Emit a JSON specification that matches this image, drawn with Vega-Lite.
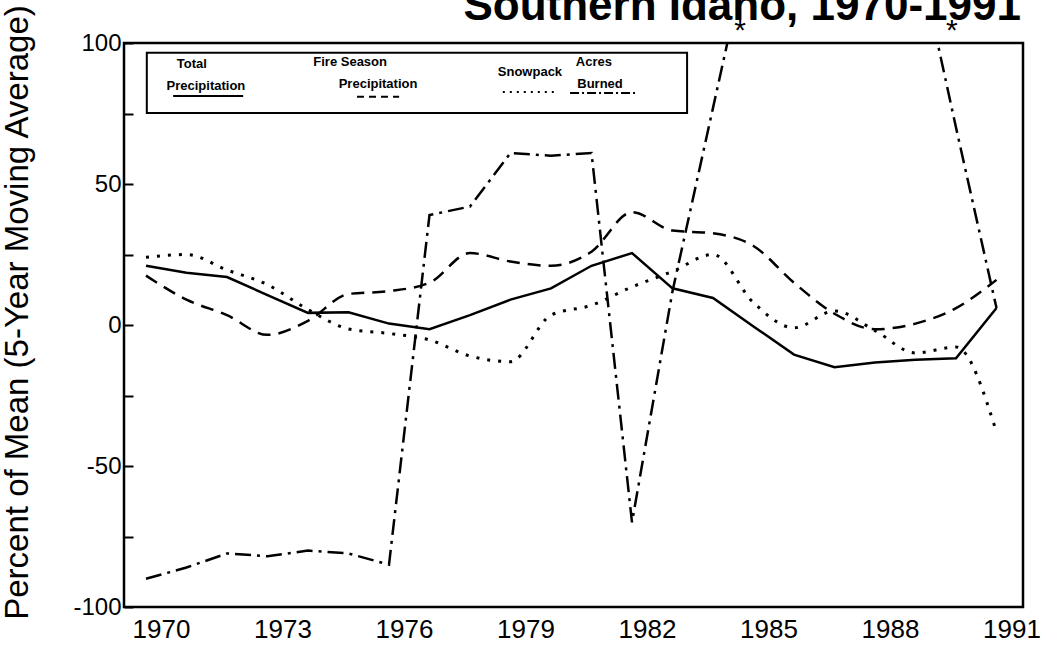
{
  "$schema": "https://vega.github.io/schema/vega-lite/v6.json",
  "width": 899,
  "height": 564,
  "autosize": {"type": "none"},
  "padding": {"left": 124, "top": 43, "right": 23, "bottom": 38},
  "background": "white",
  "config": {"view": {"stroke": "black", "strokeWidth": 2.5}, "font": "Liberation Sans"},
  "datasets": {
    "series": [
      {"s": "Total", "x": 1970, "y": 21}, {"s": "Total", "x": 1971, "y": 18.5}, {"s": "Total", "x": 1972, "y": 17}, {"s": "Total", "x": 1973, "y": 10.6}, {"s": "Total", "x": 1974, "y": 4.3}, {"s": "Total", "x": 1975, "y": 4.5}, {"s": "Total", "x": 1976, "y": 0.5}, {"s": "Total", "x": 1977, "y": -1.5}, {"s": "Total", "x": 1978, "y": 3.5}, {"s": "Total", "x": 1979, "y": 9}, {"s": "Total", "x": 1980, "y": 13}, {"s": "Total", "x": 1981, "y": 21}, {"s": "Total", "x": 1982, "y": 25.5}, {"s": "Total", "x": 1983, "y": 13}, {"s": "Total", "x": 1984, "y": 9.6}, {"s": "Total", "x": 1985, "y": -0.5}, {"s": "Total", "x": 1986, "y": -10.5}, {"s": "Total", "x": 1987, "y": -15}, {"s": "Total", "x": 1988, "y": -13.3}, {"s": "Total", "x": 1989, "y": -12.3}, {"s": "Total", "x": 1990, "y": -11.8}, {"s": "Total", "x": 1991, "y": 6},
      {"s": "Fire", "x": 1970, "y": 17.5}, {"s": "Fire", "x": 1971, "y": 9}, {"s": "Fire", "x": 1972, "y": 3.5}, {"s": "Fire", "x": 1973, "y": -3.5}, {"s": "Fire", "x": 1974, "y": 1.5}, {"s": "Fire", "x": 1975, "y": 11}, {"s": "Fire", "x": 1976, "y": 12}, {"s": "Fire", "x": 1977, "y": 15}, {"s": "Fire", "x": 1978, "y": 25.5}, {"s": "Fire", "x": 1979, "y": 22.5}, {"s": "Fire", "x": 1980, "y": 21}, {"s": "Fire", "x": 1981, "y": 26}, {"s": "Fire", "x": 1982, "y": 40}, {"s": "Fire", "x": 1983, "y": 33.5}, {"s": "Fire", "x": 1984, "y": 32.5}, {"s": "Fire", "x": 1985, "y": 28}, {"s": "Fire", "x": 1986, "y": 15}, {"s": "Fire", "x": 1987, "y": 4}, {"s": "Fire", "x": 1988, "y": -1.5}, {"s": "Fire", "x": 1989, "y": 0.5}, {"s": "Fire", "x": 1990, "y": 6}, {"s": "Fire", "x": 1991, "y": 16},
      {"s": "Snow", "x": 1970, "y": 24}, {"s": "Snow", "x": 1971, "y": 25}, {"s": "Snow", "x": 1972, "y": 19.5}, {"s": "Snow", "x": 1973, "y": 14.3}, {"s": "Snow", "x": 1974, "y": 5.5}, {"s": "Snow", "x": 1975, "y": -1.4}, {"s": "Snow", "x": 1976, "y": -3}, {"s": "Snow", "x": 1977, "y": -5.3}, {"s": "Snow", "x": 1978, "y": -11}, {"s": "Snow", "x": 1979, "y": -13}, {"s": "Snow", "x": 1980, "y": 3.5}, {"s": "Snow", "x": 1981, "y": 7}, {"s": "Snow", "x": 1982, "y": 13.5}, {"s": "Snow", "x": 1983, "y": 19}, {"s": "Snow", "x": 1984, "y": 25}, {"s": "Snow", "x": 1985, "y": 7.9}, {"s": "Snow", "x": 1986, "y": -1}, {"s": "Snow", "x": 1987, "y": 5}, {"s": "Snow", "x": 1988, "y": -2}, {"s": "Snow", "x": 1989, "y": -9.9}, {"s": "Snow", "x": 1990, "y": -7.8}, {"s": "Snow", "x": 1991, "y": -38},
      {"s": "Acres", "x": 1970, "y": -90}, {"s": "Acres", "x": 1971, "y": -86}, {"s": "Acres", "x": 1972, "y": -81}, {"s": "Acres", "x": 1973, "y": -82}, {"s": "Acres", "x": 1974, "y": -80}, {"s": "Acres", "x": 1975, "y": -81}, {"s": "Acres", "x": 1976, "y": -85}, {"s": "Acres", "x": 1977, "y": 39}, {"s": "Acres", "x": 1978, "y": 42}, {"s": "Acres", "x": 1979, "y": 61}, {"s": "Acres", "x": 1980, "y": 60}, {"s": "Acres", "x": 1981, "y": 61}, {"s": "Acres", "x": 1982, "y": -70}, {"s": "Acres", "x": 1983, "y": 12}, {"s": "Acres", "x": 1984, "y": 77}, {"s": "Acres", "x": 1985, "y": 142}, {"s": "Acres", "x": 1986, "y": 200}, {"s": "Acres", "x": 1987, "y": 200}, {"s": "Acres", "x": 1988, "y": 200}, {"s": "Acres", "x": 1989, "y": 136}, {"s": "Acres", "x": 1990, "y": 70}, {"s": "Acres", "x": 1991, "y": 6}
    ],
    "box": [{"x": 1970.02, "x2": 1983.36, "y": 96.5, "y2": 75.2}],
    "legendText": [
      {"x": 1971.13, "y": 92.6, "t": "Total"},
      {"x": 1971.48, "y": 84.8, "t": "Precipitation"},
      {"x": 1975.04, "y": 93.3, "t": "Fire Season"},
      {"x": 1975.73, "y": 85.5, "t": "Precipitation"},
      {"x": 1979.48, "y": 89.7, "t": "Snowpack"},
      {"x": 1981.06, "y": 93.3, "t": "Acres"},
      {"x": 1981.21, "y": 85.5, "t": "Burned"}
    ],
    "legendLines": [
      {"s": "Total", "x": 1970.67, "x2": 1972.4, "y": 81.2},
      {"s": "Fire", "x": 1975.21, "x2": 1976.25, "y": 80.9},
      {"s": "Snow", "x": 1978.81, "x2": 1980.1, "y": 82.6},
      {"s": "Acres", "x": 1980.47, "x2": 1982.12, "y": 82.3}
    ],
    "stars": [
      {"x": 1984.67, "y": 101, "t": "*"},
      {"x": 1989.9, "y": 101, "t": "*"}
    ],
    "title": [
      {"x": 1984.72, "y": 108.2, "t": "Southern Idaho, 1970-1991"}
    ]
  },
  "layer": [
    {
      "data": {"name": "series"},
      "transform": [{"filter": "datum.s === 'Total'"}],
      "mark": {"type": "line", "clip": true, "color": "black", "strokeWidth": 2.5},
      "encoding": {
        "x": {"field": "x", "type": "quantitative", "scale": {"domain": [1969.457, 1991.654], "nice": false, "zero": false},
          "axis": {"values": [1970, 1973, 1976, 1979, 1982, 1985, 1988, 1991], "format": "d", "labelOffset": 15, "ticks": false, "domain": false, "grid": false, "labelFontSize": 26, "labelPadding": 9, "labelColor": "black", "title": null, "labelFlush": false}},
        "y": {"field": "y", "type": "quantitative", "scale": {"domain": [-100, 100], "nice": false, "zero": false},
          "axis": {"values": [-100, -75, -50, -25, 0, 25, 50, 75, 100], "labelExpr": "datum.value % 50 === 0 ? '' + datum.value : ''", "tickSize": -9, "tickWidth": 2, "tickColor": "black", "domain": false, "grid": false, "labelFontSize": 24, "labelPadding": 12, "labelColor": "black", "title": "Percent of Mean (5-Year Moving Average)", "titleFontSize": 33, "titleFontWeight": "normal", "titleColor": "black", "titleX": -97, "titleY": 269, "titleAngle": -90, "titleBaseline": "alphabetic", "titleAlign": "center"}}
      }
    },
    {
      "data": {"name": "series"},
      "transform": [{"filter": "datum.s === 'Fire'"}],
      "mark": {"type": "line", "clip": true, "color": "black", "strokeWidth": 2.5, "strokeDash": [13, 8], "interpolate": "monotone"},
      "encoding": {"x": {"field": "x", "type": "quantitative"}, "y": {"field": "y", "type": "quantitative"}}
    },
    {
      "data": {"name": "series"},
      "transform": [{"filter": "datum.s === 'Snow'"}],
      "mark": {"type": "line", "clip": true, "color": "black", "strokeWidth": 3, "strokeDash": [3, 8], "interpolate": "monotone"},
      "encoding": {"x": {"field": "x", "type": "quantitative"}, "y": {"field": "y", "type": "quantitative"}}
    },
    {
      "data": {"name": "series"},
      "transform": [{"filter": "datum.s === 'Acres'"}],
      "mark": {"type": "line", "clip": true, "color": "black", "strokeWidth": 2.5, "strokeDash": [16, 6, 3, 6]},
      "encoding": {"x": {"field": "x", "type": "quantitative"}, "y": {"field": "y", "type": "quantitative"}}
    },
    {
      "mark": {"type": "rule", "color": "black", "strokeWidth": 2.5},
      "encoding": {"y": {"datum": 0, "type": "quantitative"}}
    },
    {
      "data": {"name": "box"},
      "mark": {"type": "rect", "fill": "white", "fillOpacity": 0, "stroke": "black", "strokeWidth": 2},
      "encoding": {"x": {"field": "x", "type": "quantitative"}, "x2": {"field": "x2"}, "y": {"field": "y", "type": "quantitative"}, "y2": {"field": "y2"}}
    },
    {
      "data": {"name": "legendText"},
      "mark": {"type": "text", "fontSize": 13, "fontWeight": "bold", "color": "black", "align": "center", "baseline": "middle"},
      "encoding": {"x": {"field": "x", "type": "quantitative"}, "y": {"field": "y", "type": "quantitative"}, "text": {"field": "t"}}
    },
    {
      "data": {"name": "legendLines"},
      "mark": {"type": "rule", "color": "black", "strokeWidth": 2},
      "encoding": {
        "x": {"field": "x", "type": "quantitative"}, "x2": {"field": "x2"}, "y": {"field": "y", "type": "quantitative"},
        "strokeDash": {"field": "s", "type": "nominal", "legend": null, "scale": {"domain": ["Total", "Fire", "Snow", "Acres"], "range": [[1, 0], [7, 5], [2, 5], [9, 3, 2, 3]]}}
      }
    },
    {
      "data": {"name": "stars"},
      "mark": {"type": "text", "fontSize": 30, "color": "black", "align": "center", "baseline": "alphabetic"},
      "encoding": {"x": {"field": "x", "type": "quantitative"}, "y": {"field": "y", "type": "quantitative"}, "text": {"field": "t"}}
    },
    {
      "data": {"name": "title"},
      "mark": {"type": "text", "fontSize": 44, "fontWeight": "bold", "color": "black", "align": "center", "baseline": "alphabetic"},
      "encoding": {"x": {"field": "x", "type": "quantitative"}, "y": {"field": "y", "type": "quantitative"}, "text": {"field": "t"}}
    }
  ]
}
